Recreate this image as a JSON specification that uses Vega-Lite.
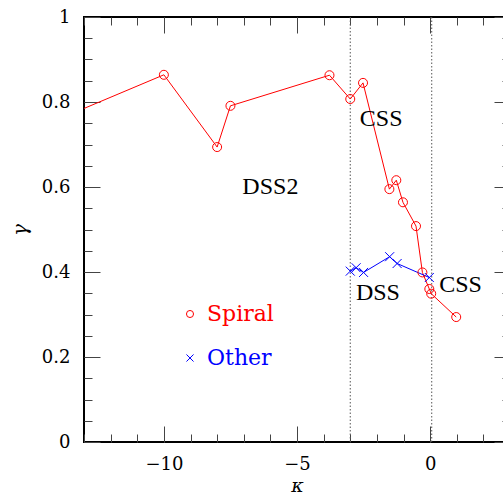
{
  "$schema": "https://vega.github.io/schema/vega-lite/v6.json",
  "autosize": {"type": "none"},
  "padding": {"left": 84, "top": 17, "right": 0, "bottom": 53},
  "width": 426,
  "height": 425,
  "background": "white",
  "config": {
    "view": {"stroke": "black", "strokeWidth": 2},
    "axis": {
      "domain": false, "grid": false,
      "labelFont": "DejaVu Serif", "labelFontSize": 18, "labelColor": "black",
      "tickColor": "#444", "tickWidth": 1,
      "titleFont": "DejaVu Serif", "titleFontSize": 20, "titleColor": "black", "titleFontWeight": "normal",
      "labelOverlap": false, "labelFlush": false, "offset": 0
    },
    "legend": {
      "orient": "none", "legendX": 95, "legendY": 286, "title": null,
      "symbolSize": 50, "symbolStrokeWidth": 1, "symbolFillColor": "transparent",
      "labelFont": "DejaVu Serif", "labelFontSize": 22, "labelOffset": 6, "rowPadding": 22
    }
  },
  "datasets": {
    "vlines": [{"k": -3}, {"k": 0.06}],
    "series": [
      {"series": "Spiral", "k": -15, "g": 0.732},
      {"series": "Spiral", "k": -10, "g": 0.864},
      {"series": "Spiral", "k": -8, "g": 0.694},
      {"series": "Spiral", "k": -7.5, "g": 0.791},
      {"series": "Spiral", "k": -3.78, "g": 0.863},
      {"series": "Spiral", "k": -3.0, "g": 0.807},
      {"series": "Spiral", "k": -2.52, "g": 0.845},
      {"series": "Spiral", "k": -1.53, "g": 0.595},
      {"series": "Spiral", "k": -1.27, "g": 0.616},
      {"series": "Spiral", "k": -1.02, "g": 0.564},
      {"series": "Spiral", "k": -0.53, "g": 0.508},
      {"series": "Spiral", "k": -0.29, "g": 0.399},
      {"series": "Spiral", "k": -0.03, "g": 0.36},
      {"series": "Spiral", "k": 0.04, "g": 0.349},
      {"series": "Spiral", "k": 0.98, "g": 0.294},
      {"series": "Other", "k": -3.0, "g": 0.402},
      {"series": "Other", "k": -2.78, "g": 0.41},
      {"series": "Other", "k": -2.5, "g": 0.399},
      {"series": "Other", "k": -1.52, "g": 0.436},
      {"series": "Other", "k": -1.24, "g": 0.42},
      {"series": "Other", "k": -0.03, "g": 0.387}
    ],
    "labels": [
      {"label": "CSS", "k": -1.84, "g": 0.76},
      {"label": "DSS2", "k": -6.0, "g": 0.6},
      {"label": "DSS", "k": -1.96, "g": 0.351},
      {"label": "CSS", "k": 1.14, "g": 0.369}
    ]
  },
  "resolve": {
    "scale": {"x": "shared", "y": "shared", "color": "shared", "shape": "shared"},
    "axis": {"x": "independent", "y": "independent"}
  },
  "layer": [
    {
      "data": {"name": "vlines"},
      "mark": {"type": "rule", "color": "#555", "strokeWidth": 1, "strokeDash": [1.5, 2]},
      "encoding": {
        "x": {
          "field": "k", "type": "quantitative",
          "scale": {"domain": [-13, 3], "nice": false, "zero": false},
          "axis": {"orient": "bottom", "values": [-10, -5, 0], "tickSize": -16, "labelPadding": 29, "title": "κ", "titleFontStyle": "italic", "titleFontSize": 19, "titlePadding": 3}
        },
        "y": {
          "datum": 0, "type": "quantitative",
          "scale": {"domain": [0, 1], "nice": false, "zero": false},
          "axis": {"orient": "left", "values": [0, 0.2, 0.4, 0.6, 0.8, 1], "format": "~g", "tickSize": -16, "labelPadding": 30, "title": "γ", "titleFontStyle": "italic", "titlePadding": 11}
        },
        "y2": {"datum": 1}
      }
    },
    {
      "data": {"name": "series"},
      "mark": {"type": "line", "strokeWidth": 1, "clip": true},
      "encoding": {
        "x": {
          "field": "k", "type": "quantitative",
          "axis": {"orient": "bottom", "values": [-13, -12, -11, -10, -9, -8, -7, -6, -5, -4, -3, -2, -1, 0, 1, 2, 3], "tickSize": -8, "labels": false, "title": null}
        },
        "y": {
          "field": "g", "type": "quantitative",
          "axis": {"orient": "left", "values": [0, 0.05, 0.1, 0.15, 0.2, 0.25, 0.3, 0.35, 0.4, 0.45, 0.5, 0.55, 0.6, 0.65, 0.7, 0.75, 0.8, 0.85, 0.9, 0.95, 1], "tickSize": -8, "labels": false, "title": null}
        },
        "color": {
          "field": "series", "type": "nominal",
          "scale": {"domain": ["Spiral", "Other"], "range": ["#ff0000", "#0000ff"]},
          "legend": {"encode": {"labels": {"update": {"fill": {"signal": "datum.value === 'Spiral' ? '#ff0000' : '#0000ff'"}}}}}
        },
        "detail": {"field": "series"}
      }
    },
    {
      "data": {"name": "series"},
      "mark": {"type": "point", "filled": false, "strokeWidth": 1, "size": 81, "clip": true, "opacity": 1},
      "encoding": {
        "x": {
          "field": "k", "type": "quantitative",
          "axis": {"orient": "top", "values": [-10, -5, 0], "tickSize": -16, "labels": false, "title": null}
        },
        "y": {
          "field": "g", "type": "quantitative",
          "axis": {"orient": "right", "values": [0, 0.2, 0.4, 0.6, 0.8, 1], "tickSize": -16, "labels": false, "title": null}
        },
        "color": {
          "field": "series", "type": "nominal",
          "legend": {"encode": {"labels": {"update": {"fill": {"signal": "datum.value === 'Spiral' ? '#ff0000' : '#0000ff'"}}}}}
        },
        "shape": {
          "field": "series", "type": "nominal",
          "scale": {"domain": ["Spiral", "Other"], "range": ["circle", "M-1,-1L1,1M-1,1L1,-1"]},
          "legend": {"encode": {"labels": {"update": {"fill": {"signal": "datum.value === 'Spiral' ? '#ff0000' : '#0000ff'"}}}}}
        }
      }
    },
    {
      "data": {"name": "labels"},
      "mark": {"type": "text", "font": "Liberation Serif", "fontSize": 24, "color": "black", "align": "center", "baseline": "middle"},
      "encoding": {
        "x": {
          "field": "k", "type": "quantitative",
          "axis": {"orient": "top", "values": [-13, -12, -11, -10, -9, -8, -7, -6, -5, -4, -3, -2, -1, 0, 1, 2, 3], "tickSize": -8, "labels": false, "title": null}
        },
        "y": {
          "field": "g", "type": "quantitative",
          "axis": {"orient": "right", "values": [0, 0.05, 0.1, 0.15, 0.2, 0.25, 0.3, 0.35, 0.4, 0.45, 0.5, 0.55, 0.6, 0.65, 0.7, 0.75, 0.8, 0.85, 0.9, 0.95, 1], "tickSize": -8, "labels": false, "title": null}
        },
        "text": {"field": "label"}
      }
    }
  ]
}
